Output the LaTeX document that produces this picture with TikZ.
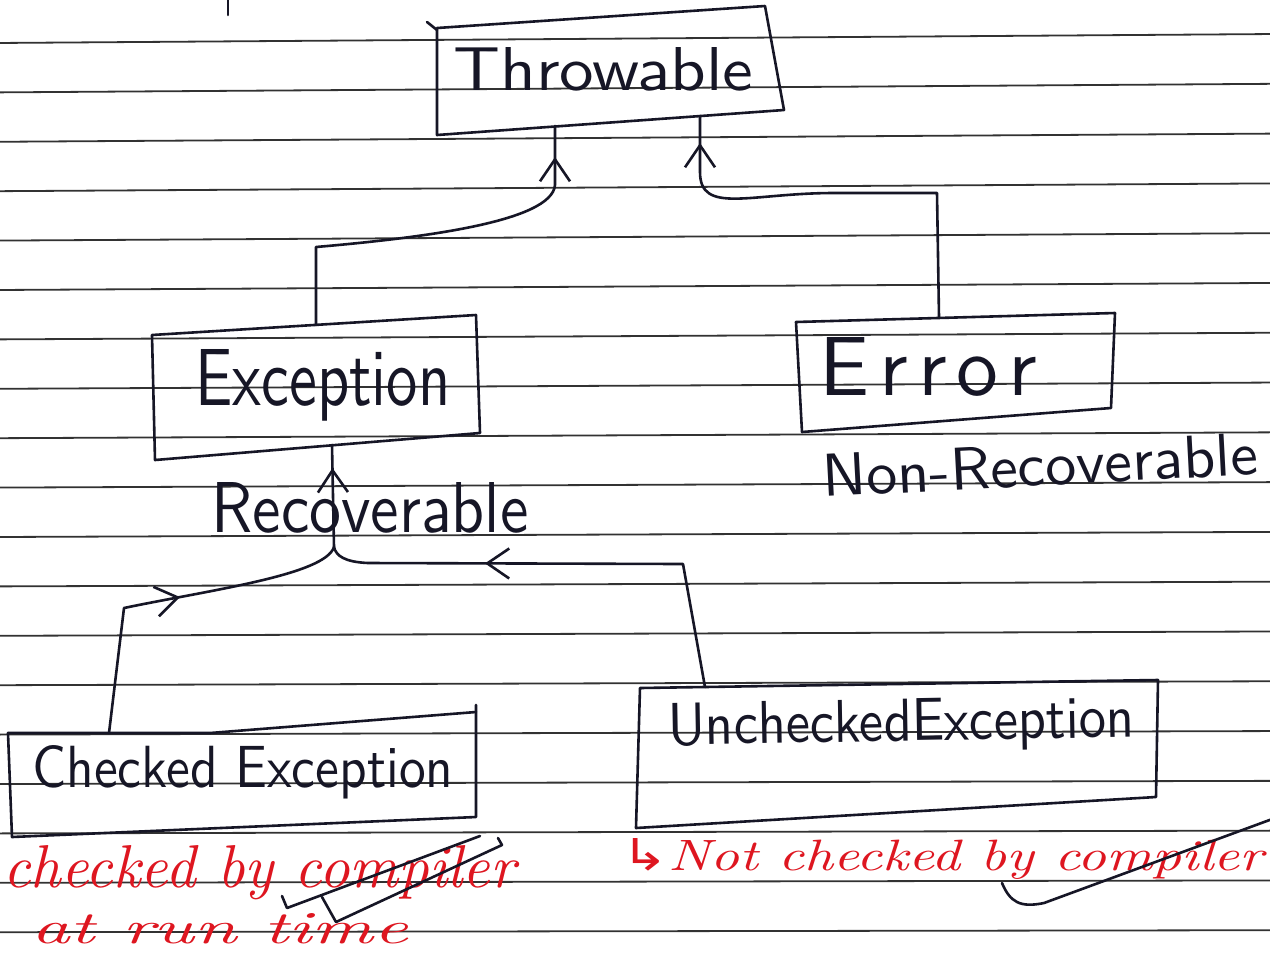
\documentclass[tikz,border=0pt]{standalone}
\usepackage{fontspec}
\usepackage{graphicx}
\newfontfamily\symfont{DejaVu Sans}
\usetikzlibrary{arrows.meta,decorations.markings}
\definecolor{penc}{RGB}{22,22,38}
\definecolor{redc}{RGB}{222,22,32}
\definecolor{rulec}{RGB}{50,50,50}
\newcommand{\fitbox}[3]{\resizebox{#1}{#2}{#3}}
\begin{document}
\begin{tikzpicture}[x=0.5pt,y=-0.5pt,
  pen/.style={draw=penc,line width=1.3pt,line cap=round,line join=round},
  rulestyle/.style={draw=rulec,line width=0.9pt},
  lbl/.style={inner sep=0pt,anchor=base west,text=penc,font=\sffamily},
  note/.style={inner sep=0pt,anchor=base west,text=redc,font=\itshape},
  midarrow/.style={postaction={decorate},decoration={markings,
      mark=at position #1 with {\arrow{Straight Barb[length=11pt,width=15pt]}}}}
]
\useasboundingbox (0,0) rectangle (1270,955);
\fill[white] (0,0) rectangle (1270,955);
\clip (0,0) rectangle (1270,955);

% ruled paper lines
\foreach \k in {0,...,18}{
  \pgfmathsetmacro{\ya}{43+49.4*\k}
  \pgfmathsetmacro{\yb}{\ya-9+7*\k/18}
  \draw[rulestyle] (-5,\ya) -- (1275,\yb);
}

% small tick at top
\draw[pen] (228,0) -- (228,15);

% boxes
\draw[pen] (437,28) -- (765,6) -- (784,110) -- (437,135) -- cycle;
\draw[pen] (427,22) -- (437,30);
\draw[pen] (152,335) -- (476,315) -- (480,433) -- (155,460) -- cycle;
\draw[pen] (796,322) -- (1115,313) -- (1111,408) -- (802,432) -- cycle;
\draw[pen] (8,733) -- (210,733) -- (476,712);
\draw[pen] (476,705) -- (476,817) -- (12,837) -- (8,733);
\draw[pen] (640,688) -- (1158,680) -- (1156,797) -- (636,828) -- cycle;

% text nodes
\node[lbl] (thr) at (453,90) {\fitbox{150pt}{21.5pt}{Throwable}};
\node[lbl] (exc) at (195,405) {\fitbox{127.5pt}{28pt}{Exception}};
\node[lbl] (err) at (819,395) {\fitbox{109pt}{29pt}{E\hspace{0.12em}r\hspace{0.12em}r\hspace{0.12em}o\hspace{0.12em}r}};
\node[lbl,rotate=3] (nonrec) at (823,497) {\fitbox{218pt}{21pt}{Non-Recoverable}};
\node[lbl] (rec) at (211,532) {\fitbox{158.5pt}{25pt}{Recoverable}};
\node[lbl] (chk) at (32,787) {\fitbox{210.5pt}{21pt}{Checked Exception}};
\node[lbl,rotate=1] (unc) at (668,745) {\fitbox{233pt}{21pt}{UncheckedException}};

% connection points
\coordinate (thr-l) at (555,126);
\coordinate (thr-r) at (700,116);
\coordinate (exc-t) at (316,325);
\coordinate (exc-b) at (332,445);
\coordinate (err-t) at (939,317);
\coordinate (chk-t) at (109,733);
\coordinate (unc-t) at (705,687);
\coordinate (join) at (334,547);

% connectors
\draw[pen,midarrow=-15.5pt] (exc-t) -- (316,247) .. controls (420,238) and (552,222) .. (555,185) -- (thr-l);
\draw[pen,midarrow=-13.5pt] (err-t) -- (937,193) -- (834,193) .. controls (750,193) and (700,215) .. (700,172) -- (thr-r);
\draw[pen,midarrow=-11.5pt] (join) -- (exc-b);
\draw[pen,midarrow=91.5pt] (chk-t) -- (124,608) .. controls (210,590) and (325,575) .. (join);
\draw[pen,midarrow=161.5pt] (unc-t) -- (683,564) -- (368,563) .. controls (345,562) and (336,556) .. (join);

% red notes
\node[note] (n1) at (3,887) {\fitbox{256pt}{21pt}{checked by compiler}};
\node[note] (n2) at (31,943) {\fitbox{188.5pt}{15pt}{at run time}};
\node[note] (n3) at (621,870) {\fitbox{321pt}{16pt}{{\symfont\char"21B3}Not checked by compiler}};

% black tick scribbles
\draw[pen] (282,896) -- (287,908) -- (480,836);
\draw[pen] (322,897) -- (336,922) -- (502,845) -- (498,838);
\draw[pen] (1002,883) .. controls (1010,902) and (1020,908) .. (1044,903) -- (1275,818);
\end{tikzpicture}
\end{document}
